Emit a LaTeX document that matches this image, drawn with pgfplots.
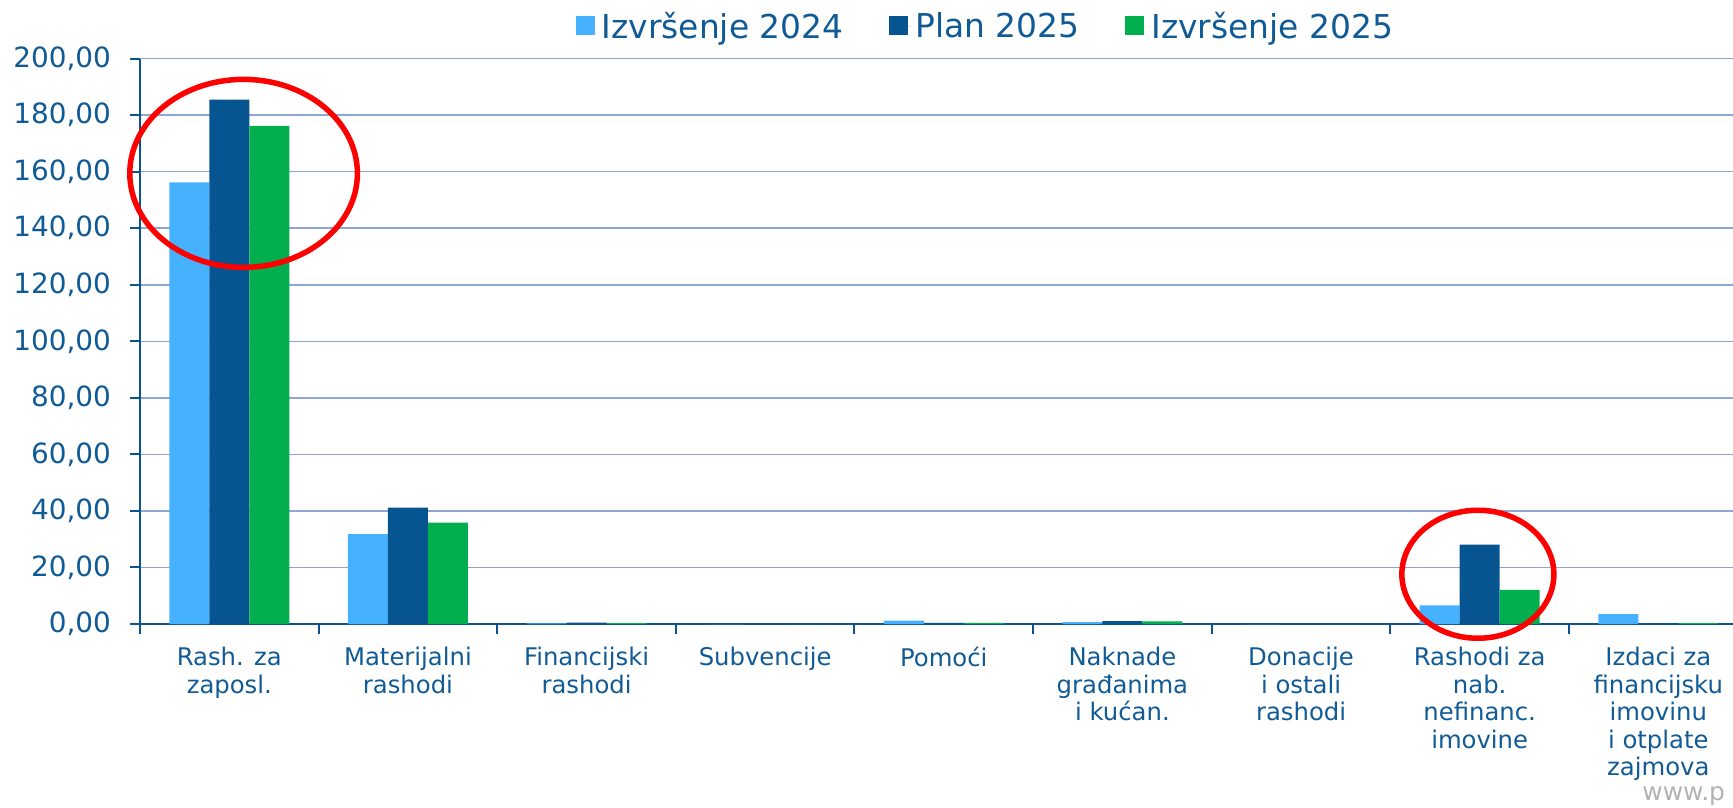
\documentclass[border=0pt]{standalone}
\usepackage{pgfplots}
\pgfplotsset{compat=1.18}
\usepackage{fontspec}
\setmainfont{DejaVu Sans}
\definecolor{lightbar}{HTML}{45B1FF}
\definecolor{darkbar}{HTML}{065490}
\definecolor{greenbar}{HTML}{02AE4E}
\definecolor{txtblue}{HTML}{105A96}
\definecolor{axblue}{HTML}{0B5290}
\definecolor{gridblue}{HTML}{8FA5D2}
\begin{document}
\begin{tikzpicture}
\begin{axis}[
  at={(70bp,92bp)}, anchor=south west,
  scale only axis,
  width=803.8bp, height=282.7bp,
  xmin=-0.5, xmax=8.5,
  ymin=0, ymax=200,
  ytick={0,20,...,200},
  xtick={-0.5,0.5,1.5,2.5,3.5,4.5,5.5,6.5,7.5,8.5},
  x tick label as interval,
  xticklabels={{Rash. za\\zaposl.},{Materijalni\\rashodi},{Financijski\\rashodi},
    {Subvencije},{Pomoći},{Naknade\\građanima\\i kućan.},{Donacije\\i ostali\\rashodi},
    {Rashodi za\\nab.\\nefinanc.\\imovine},{Izdaci za\\financijsku\\imovinu\\i otplate\\zajmova}},
  axis x line*=bottom, axis y line*=left,
  x axis line style={axblue, line width=1.25bp},
  y axis line style={axblue, line width=1bp},
  tick align=outside,
  major tick length=5bp,
  tick style={axblue, line width=1bp},
  ymajorgrids,
  grid style={gridblue, line width=0.75bp},
  y tick label style={/pgf/number format/fixed, /pgf/number format/fixed zerofill,
    /pgf/number format/precision=2, /pgf/number format/use comma,
    /pgf/number format/1000 sep={}},
  /pgf/number format/assume math mode=true,
  y tick label style={font=\fontsize{14}{16}\selectfont, text=txtblue, xshift=-6bp},
  x tick label style={font=\fontsize{12.2}{13.8}\selectfont, text=txtblue, align=center, yshift=-3bp},
  ybar=0pt, bar width=20bp,
  clip=false,
  legend style={at={(0.5265,1.0568)}, anchor=center, draw=none, fill=none,
    legend columns=3, font=\fontsize{16.5}{18}\selectfont, text=txtblue,
    /tikz/every even column/.append style={column sep=21bp}},
  legend image code/.code={\fill[#1] (0bp,-4.5bp) rectangle (9.5bp,5bp);
    \path (0bp,0bp) -- (11bp,0bp);},
]
\addplot[fill=lightbar, draw=none] coordinates {(0,156.2) (1,31.8) (2,0.2) (3,0) (4,1.2) (5,0.7) (6,0) (7,6.6) (8,3.5)};
\addlegendentry{Izvršenje 2024}
\addplot[fill=darkbar, draw=none] coordinates {(0,185.5) (1,41.2) (2,0.5) (3,0) (4,0.4) (5,1.0) (6,0) (7,28.1) (8,0.2)};
\addlegendentry{Plan 2025}
\addplot[fill=greenbar, draw=none] coordinates {(0,176.2) (1,35.9) (2,0.3) (3,0) (4,0.4) (5,0.9) (6,0) (7,12.1) (8,0.3)};
\addlegendentry{Izvršenje 2025}
\draw[red, line width=2.75bp] (axis cs:0.08,159.4) ellipse [x radius=56.9bp, y radius=47bp];
\draw[red, line width=2.75bp] (axis cs:6.99,17.6) ellipse [x radius=38bp, y radius=32bp];
\end{axis}
\node[anchor=base west, text=gray!60, font=\fontsize{12.5}{15}\selectfont, inner sep=0pt] at (821bp,4bp) {www.p};
\pgfresetboundingbox
\path[use as bounding box] (0,0) rectangle (866.5bp,404bp);
\end{tikzpicture}
\end{document}
